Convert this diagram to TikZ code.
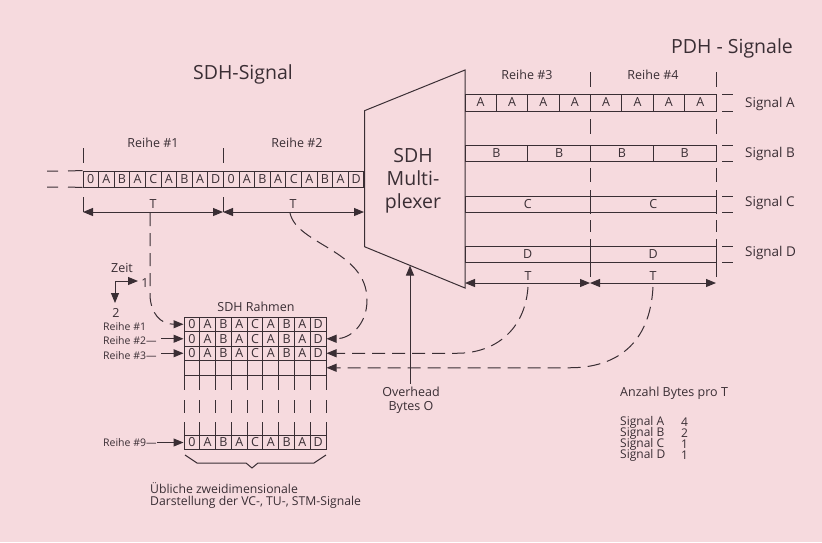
\documentclass[tikz,border=0pt]{standalone}
\usepackage{fontspec}
\setmainfont{Open Sans}
\usetikzlibrary{arrows.meta,calc}
\definecolor{bgpink}{RGB}{246,218,222}
\definecolor{ink}{RGB}{58,46,52}
\tikzset{
  ln/.style={draw=ink, line width=1pt},
  dsh/.style={draw=ink, line width=1pt, dash pattern=on 13pt off 7pt},
  tip/.style={-{Triangle[length=10pt,width=8pt]}},
  dbl/.style={{Triangle[length=10pt,width=8pt]}-{Triangle[length=10pt,width=8pt]}},
  big/.style={font=\fontsize{19.5}{23}\selectfont, text=ink, inner sep=0pt},
  mid/.style={font=\fontsize{12.5}{14}\selectfont, text=ink, inner sep=0pt},
  sig/.style={font=\fontsize{13.5}{14}\selectfont, text=ink, inner sep=0pt, anchor=west},
  small/.style={font=\fontsize{10.5}{12}\selectfont, text=ink, inner sep=0pt},
  tab/.style={font=\fontsize{12}{12}\selectfont, text=ink, inner sep=0pt, anchor=west},
  cell/.style={draw=ink, line width=1pt, inner sep=0pt, font=\fontsize{12.5}{12}\selectfont, text=ink},
  gcell/.style={cell, minimum width=15.78pt, minimum height=14.5pt},
  pcell/.style={cell, minimum height=16pt},
}
\begin{document}
\begin{tikzpicture}[x=1pt,y=-1pt]
\fill[bgpink] (0,0) rectangle (822,542);
\useasboundingbox (0,0) rectangle (822,542);

% titles
\node[big] (tSDH) at (243,74) {SDH-Signal};
\node[big] (tPDH) at (732,48) {PDH - Signale};

% Reihe labels
\node[mid] (r1) at (153,143) {Reihe \#1};
\node[mid] (r2) at (297,143) {Reihe \#2};
\node[mid] (r3) at (527,75) {Reihe \#3};
\node[mid] (r4) at (653,75) {Reihe \#4};

% serial SDH row
\foreach \c [count=\k from 0] in {0,A,B,A,C,A,B,A,D,0,A,B,A,C,A,B,A,D}
  \node[cell, minimum width=15.61pt, minimum height=16pt] (s\k) at ({83+15.61*(\k+0.5)},179) {\c};
\draw[ln] (47,171) -- (58,171) (68,171) -- (s0.north west)
          (47,187) -- (58,187) (68,187) -- (s0.south west);
\foreach \x in {83,223} { \draw[ln] (\x,148) -- (\x,163); \draw[ln] (\x,197) -- (\x,212); }
\coordinate (L0) at (83,212);
\coordinate (L1) at (223,212);
\coordinate (L2) at (364,212);
\draw[ln,dbl] (L0) -- (L1);
\draw[ln,dbl] (L1) -- (L2);
\node[mid] (T1) at (153,204) {T};
\node[mid] (T2) at (293,204) {T};

% multiplexer
\coordinate (m1) at (364.5,110.7);
\coordinate (m2) at (465,70);
\coordinate (m3) at (465,288);
\coordinate (m4) at (364.5,246.7);
\draw[ln] (m1) -- (m2) -- (m3) -- (m4) -- cycle;
\node[big, align=center] (mux) at (413,181) {SDH\\Multi-\\plexer};

% PDH rows
\foreach \k in {1,...,8}
  \node[pcell, minimum width=31.375pt, minimum height=17pt] (a\k) at ({465+31.375*(\k-0.5)},102.5) {A};
\foreach \k in {1,...,4}
  \node[pcell, minimum width=62.75pt] (b\k) at ({465+62.75*(\k-0.5)},153) {B};
\foreach \k in {1,2}
  \node[pcell, minimum width=125.5pt] (c\k) at ({465+125.5*(\k-0.5)},204) {C};
\foreach \k in {1,2}
  \node[pcell, minimum width=125.5pt] (d\k) at ({465+125.5*(\k-0.5)},254) {D};
\foreach \y in {94,111,145,161,196,212,246,262} \draw[ln] (722,\y) -- (733,\y);
\foreach \x in {590,716}
  \foreach \a/\b in {72/87,119/134,168/182,190/214,220/232,239/277}
    \draw[ln] (\x,\a) -- (\x,\b);
\node[sig] (sA) at (745,104) {Signal A};
\node[sig] (sB) at (745,154) {Signal B};
\node[sig] (sC) at (745,203) {Signal C};
\node[sig] (sD) at (745,253) {Signal D};
\coordinate (R0) at (465,283);
\coordinate (R1) at (590,283);
\coordinate (R2) at (716,283);
\draw[ln,dbl] (R0) -- (R1);
\draw[ln,dbl] (R1) -- (R2);
\node[mid] (T3) at (528,276) {T};
\node[mid] (T4) at (653,276) {T};

% Zeit
\node[mid] (zeit) at (122,268) {Zeit};
\coordinate (z0) at (115,281);
\node[mid] (z1) at (145,283) {1};
\node[mid] (z2) at (116,313) {2};
\coordinate (z1a) at (138,281);
\coordinate (z2a) at (115,303);
\draw[ln,tip] (z0) -- (z1a);
\draw[ln,tip] (z0) -- (z2a);

% SDH Rahmen grid
\node[mid] (rahmen) at (256,307) {SDH Rahmen};
\foreach \r/\yc in {1/324.25,2/338.75,3/353.25}
  \foreach \c [count=\k] in {0,A,B,A,C,A,B,A,D}
    \node[gcell] (g\r-\k) at ({184+15.78*(\k-0.5)},\yc) {\c};
\foreach \k in {1,...,9}
  \node[gcell] (g4-\k) at ({184+15.78*(\k-0.5)},367.75) {};
\foreach \c [count=\k] in {0,A,B,A,C,A,B,A,D}
  \node[gcell, minimum height=14pt] (g9-\k) at ({184+15.78*(\k-0.5)},442.5) {\c};
\foreach \k in {0,...,9}
  \foreach \a/\b in {375/390,400/413,422/435.5}
    \draw[ln] ({184+15.78*\k},\a) -- ({184+15.78*\k},\b);

\node[small, anchor=west] (lr1) at (103,327) {Reihe \#1};
\node[small, anchor=west] (lr2) at (103,341) {Reihe \#2—};
\node[small, anchor=west] (lr3) at (103,356) {Reihe \#3—};
\node[small, anchor=west] (lr9) at (103,443) {Reihe \#9—};
\coordinate (a2) at (161,338.75);
\coordinate (a3) at (161,353.25);
\coordinate (a9) at (157,442.5);
\draw[ln,tip] (a2) -- (g2-1.west);
\draw[ln,tip] (a3) -- (g3-1.west);
\draw[ln,tip] (a9) -- (g9-1.west);

% dashed connectors
\coordinate (c1) at (150,213);
\coordinate (c2) at (290,213);
\coordinate (c3) at (528,287);
\coordinate (c4) at (653,287);
\draw[dsh,tip] (c1) -- (150,296) .. controls (151,313) and (160,324.25) .. (g1-1.west);
\draw[dsh,tip] (c2) .. controls (297,245) and (367,250) .. (367,300) .. controls (367,325) and (350,338.75) .. (g2-9.east);
\draw[dsh,tip] (c3) .. controls (525,330) and (495,353.25) .. (457,353.25) -- (g3-9.east);
\draw[dsh,tip] (c4) .. controls (650,345) and (615,367.75) .. (570,367.75) -- (g4-9.east);

% overhead
\node[mid, align=center, inner sep=3pt] (oh) at (411,400) {Overhead\\Bytes O};
\coordinate (ohtip) at (410,265.5);
\draw[ln,tip] (oh.north -| ohtip) -- (ohtip);

% brace and caption
\draw[ln] (185,455) -- (197,463) -- (246,463) -- (252,468) -- (258,463) -- (314,463) -- (326,455);
\node[font=\fontsize{12.2}{12.5}\selectfont, text=ink, inner sep=0pt, anchor=north west, align=left] (cap) at (150,482)
  {Übliche zweidimensionale\\Darstellung der VC-, TU-, STM-Signale};

% table
\node[mid, anchor=west] (anz) at (620,393) {Anzahl Bytes pro T};
\node[tab] (tA) at (620,422) {Signal A};
\node[tab] (tB) at (620,433) {Signal B};
\node[tab] (tC) at (620,444) {Signal C};
\node[tab] (tD) at (620,455) {Signal D};
\node[tab] (nA) at (681,422) {4};
\node[tab] (nB) at (681,433) {2};
\node[tab] (nC) at (681,444) {1};
\node[tab] (nD) at (681,455) {1};
\end{tikzpicture}
\end{document}
